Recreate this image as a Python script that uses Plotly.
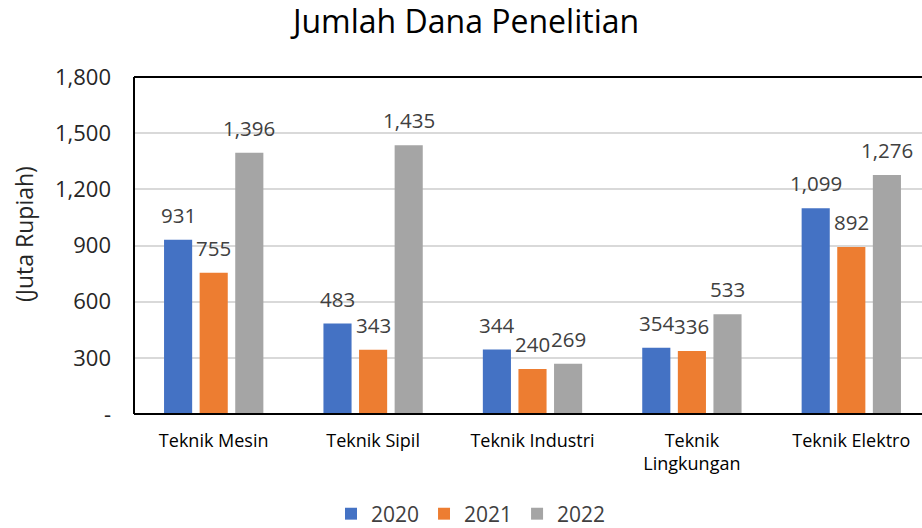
import plotly.graph_objects as go

kategori = ["Teknik Mesin", "Teknik Sipil", "Teknik Industri", "Teknik<br>Lingkungan", "Teknik Elektro"]
tahun = ["2020", "2021", "2022"]
dana_2020 = [931, 483, 344, 354, 1099]
dana_2021 = [755, 343, 240, 336, 892]
dana_2022 = [1396, 1435, 269, 533, 1276]
warna = ["#4472C4", "#ED7D31", "#A5A5A5"]

y_ticks = [0, 300, 600, 900, 1200, 1500, 1800]
y_ticktext = ["-", "300", "600", "900", "1,200", "1,500", "1,800"]

semua = [dana_2020, dana_2021, dana_2022]
px_per_cat = 788 / (5 - 9 / 159.4)
slot = px_per_cat * 0.67 / 3

fig = go.Figure()
for nama, nilai, w in zip(tahun, semua, warna):
    fig.add_trace(go.Bar(x=list(range(len(kategori))), y=nilai, name=nama, marker_color=w,
                         marker_line_width=0))

anotasi = []
for j, nilai in enumerate(semua):
    for i, v in enumerate(nilai):
        anotasi.append(dict(
            x=i, y=v, xref="x", yref="y", text=f"{v:,}", showarrow=False,
            xshift=(j - 1) * slot, yshift=9, yanchor="bottom",
            font=dict(size=20.5, color="#404040"),
        ))

# judul sumbu y
anotasi.append(dict(
    x=(24 - 134) / 788, y=(414 - 234) / 337, xref="paper", yref="paper",
    xanchor="center", yanchor="middle",
    text="(Juta Rupiah)", showarrow=False,
    textangle=-90, font=dict(size=23, color="#262626"),
))

# bingkai area plot (kiri, atas, bawah)
garis = dict(color="black", width=2)
bingkai = [
    dict(type="line", xref="paper", yref="paper", x0=0, x1=0, y0=0, y1=1, line=garis),
    dict(type="line", xref="paper", yref="paper", x0=0, x1=1, y0=1, y1=1, line=garis),
    dict(type="line", xref="paper", yref="paper", x0=0, x1=1, y0=0, y1=0, line=garis),
]

fig.update_layout(
    width=922, height=528,
    margin=dict(l=134, r=0, t=77, b=114),
    paper_bgcolor="white", plot_bgcolor="white",
    font=dict(family="Open Sans", color="#262626"),
    title=dict(text="Jumlah Dana Penelitian", x=466 / 922, xanchor="center",
               y=1 - 22 / 528, yanchor="middle", font=dict(size=32, color="#000000")),
    barmode="group", bargap=0.33, bargroupgap=0.21,
    showlegend=True,
    legend=dict(orientation="h", xref="container", yref="container",
                x=471 / 922, xanchor="center", y=1 - 514 / 528, yanchor="middle",
                font=dict(size=21, color="#404040"), traceorder="normal"),
    annotations=anotasi,
    shapes=bingkai,
)
fig.update_xaxes(
    tickvals=list(range(len(kategori))), ticktext=kategori,
    range=[-0.5, 4.5 - 9 / 159.4],
    showline=False, showgrid=False, zeroline=False, ticks="", ticklabelstandoff=14,
    tickfont=dict(size=18, color="#000000"),
)
fig.update_yaxes(
    range=[0, 1800], tickvals=y_ticks, ticktext=y_ticktext,
    showline=False, showgrid=True, gridcolor="#D9D9D9", gridwidth=1.5,
    ticks="", ticklabelstandoff=22, zeroline=False,
    tickfont=dict(size=22, color="#262626"),
)

fig.write_html("out.html", config={"displayModeBar": False},
               post_script="document.body.style.margin='0';document.body.style.overflow='hidden';")
